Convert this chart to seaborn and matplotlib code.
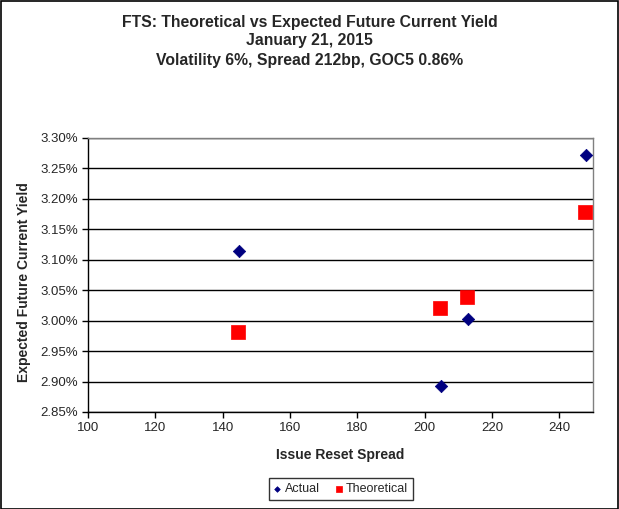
import matplotlib
matplotlib.use("Agg")
import matplotlib.pyplot as plt
import matplotlib.ticker as mticker
from matplotlib.patches import Rectangle
import seaborn as sns
import pandas as pd

actual_x = [247.9, 144.9, 213.0, 204.8]
actual_y = [3.2725, 3.114, 3.0034, 2.892]
theo_x = [247.7, 144.6, 204.6, 212.7]
theo_y = [3.178, 2.982, 3.020, 3.0385]
series_names = ["Actual", "Theoretical"]
title_lines = ["FTS: Theoretical vs Expected Future Current Yield",
               "January 21, 2015",
               "Volatility 6%, Spread 212bp, GOC5 0.86%"]
x_label = "Issue Reset Spread"
y_label = "Expected Future Current Yield"
x_ticks = [100, 120, 140, 160, 180, 200, 220, 240]

sns.set_style("white")
plt.rcParams['font.family'] = ['Liberation Sans', 'DejaVu Sans']

df_a = pd.DataFrame({"x": actual_x, "y": actual_y})
df_t = pd.DataFrame({"x": theo_x, "y": theo_y})

fig = plt.figure(figsize=(6.19, 5.09), dpi=100)
ax = fig.add_axes([88/619, 1-412/509, (593-88)/619, (412-138)/509])

sns.scatterplot(data=df_a, x="x", y="y", ax=ax, marker="D", color="#000080",
                s=40, edgecolor="#000080", linewidth=0.5, label=series_names[0], zorder=3)
sns.scatterplot(data=df_t, x="x", y="y", ax=ax, marker="s", color="#FF0000",
                s=88, edgecolor="#FF0000", linewidth=0.5, label=series_names[1], zorder=3)

ax.set_xlim(100, 250)
ax.set_ylim(2.85, 3.30)
ax.set_xticks(x_ticks)
ax.set_yticks([2.85 + 0.05*i for i in range(10)])
ax.yaxis.set_major_formatter(mticker.FuncFormatter(lambda v, p: f"{v:.2f}%"))
ax.grid(axis='y', color='black', linewidth=1.0)
ax.set_axisbelow(True)
for s in ['left', 'bottom']:
    ax.spines[s].set_color('black')
    ax.spines[s].set_linewidth(1.0)
for s in ['top', 'right']:
    ax.spines[s].set_color('#808080')
    ax.spines[s].set_linewidth(1.0)
ax.tick_params(axis='both', direction='out', length=4, width=1, color='black',
               labelsize=9.5, pad=3, left=True, bottom=True)
ax.set_xlabel(x_label, fontsize=10, fontweight='bold', labelpad=10)
ax.set_ylabel(y_label, fontsize=10, fontweight='bold')
ax.yaxis.set_label_coords(-0.113, 0.476)

fig.text(0.5, 1-22/509, title_lines[0], ha='center', va='center', fontsize=11.3, fontweight='bold')
fig.text(0.5, 1-41/509, title_lines[1], ha='center', va='center', fontsize=11.3, fontweight='bold')
fig.text(0.5, 1-61/509, title_lines[2], ha='center', va='center', fontsize=11.3, fontweight='bold')

h, l = ax.get_legend_handles_labels()
if ax.legend_:
    ax.legend_.remove()
leg = fig.legend(h, l, loc='center', bbox_to_anchor=(341/619, 1-489/509), ncol=2,
                 frameon=True, fancybox=False, edgecolor='black', fontsize=9,
                 markerscale=0.45, handlelength=0.6, handletextpad=0.3, columnspacing=1.2,
                 borderpad=0.4)
leg.get_frame().set_linewidth(1.0)

fig.patches.append(Rectangle((0.5/619, 0.5/509), 1-1.5/619, 1-1.5/509, transform=fig.transFigure,
                             fill=False, edgecolor='black', linewidth=1.2))
fig.savefig("out.png", dpi=100, facecolor='white')
